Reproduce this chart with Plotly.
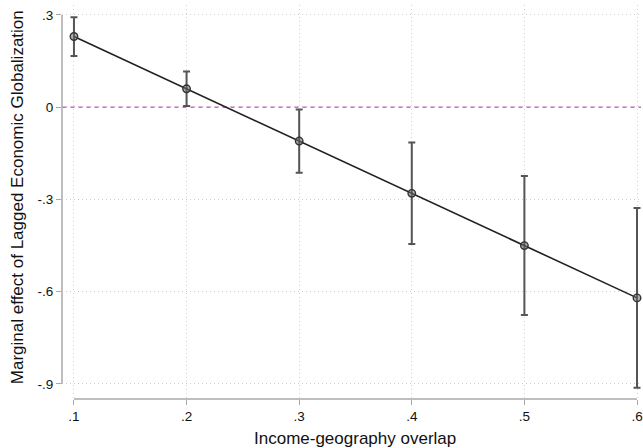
import plotly.graph_objects as go

# Data
overlap = [0.1, 0.2, 0.3, 0.4, 0.5, 0.6]
marginal_effect = [0.230, 0.060, -0.110, -0.280, -0.450, -0.620]
ci_halfwidth = [0.063, 0.056, 0.103, 0.165, 0.226, 0.292]

x_ticks = [0.1, 0.2, 0.3, 0.4, 0.5, 0.6]
x_ticklabels = [".1", ".2", ".3", ".4", ".5", ".6"]
y_ticks = [0.3, 0, -0.3, -0.6, -0.9]
y_ticklabels = [".3", "0", "-.3", "-.6", "-.9"]

W, H = 643, 448
ML, MR, MT, MB = 62, 0, 5, 49

FONT = "Liberation Sans, Arial, Helvetica, sans-serif"
AXIS_GRAY = "#a8a8a8"
GRID = "#d0d0d0"

fig = go.Figure()

fig.add_trace(go.Scatter(
    x=overlap,
    y=marginal_effect,
    mode="lines+markers",
    line=dict(color="#222222", width=1.6),
    marker=dict(symbol="circle", size=7.5, color="rgba(110,110,110,0.55)",
                line=dict(color="#333333", width=1.4)),
    error_y=dict(type="data", array=ci_halfwidth, symmetric=True,
                 color="#555555", thickness=2, width=3.5),
    showlegend=False,
    cliponaxis=False,
))

# zero reference line
fig.add_shape(type="line", xref="paper", yref="y", x0=0, x1=1, y0=0, y1=0,
              line=dict(color="#c070c0", width=1.5, dash="5px,3px"), layer="below")

# Stata-like detached axis lines spanning tick range
fig.add_shape(type="line", xref="paper", yref="y", x0=0, x1=0,
              y0=min(y_ticks), y1=max(y_ticks),
              line=dict(color=AXIS_GRAY, width=1.5))
fig.add_shape(type="line", xref="x", yref="paper", x0=min(x_ticks), x1=max(x_ticks),
              y0=0, y1=0, line=dict(color=AXIS_GRAY, width=1.5))

axis_common = dict(
    ticks="outside", ticklen=5, tickwidth=1.3, tickcolor=AXIS_GRAY,
    showline=False, zeroline=False,
    showgrid=True, gridcolor=GRID, griddash="1px,3px", gridwidth=1,
    tickfont=dict(family=FONT, size=13.5, color="#111111"),
    ticklabeloverflow="allow",
)
fig.update_xaxes(range=[0.08938, 0.60354], tickvals=x_ticks, ticktext=x_ticklabels,
                 **axis_common)
fig.update_yaxes(range=[-0.9488, 0.3325], tickvals=y_ticks, ticktext=y_ticklabels,
                 **axis_common)

pw = W - ML - MR
ph = H - MT - MB
fig.add_annotation(text="Income-geography overlap", xref="paper", yref="paper",
                   x=(356 - ML) / pw, y=-(438 - (H - MB)) / ph,
                   xanchor="center", yanchor="middle", showarrow=False,
                   font=dict(family=FONT, size=17, color="#111111"))
fig.add_annotation(text="Marginal effect of Lagged Economic Globalization",
                   xref="paper", yref="paper",
                   x=(17 - ML) / pw, y=1 - (197 - MT) / ph,
                   xanchor="center", yanchor="middle", textangle=-90, showarrow=False,
                   font=dict(family=FONT, size=17, color="#111111"))

fig.update_layout(
    width=W, height=H,
    margin=dict(l=ML, r=MR, t=MT, b=MB),
    paper_bgcolor="white", plot_bgcolor="white",
    font=dict(family=FONT),
)

fig.write_html(
    "out.html",
    config={"displayModeBar": False},
    post_script="document.body.style.margin='0';document.body.style.overflow='hidden';",
)
